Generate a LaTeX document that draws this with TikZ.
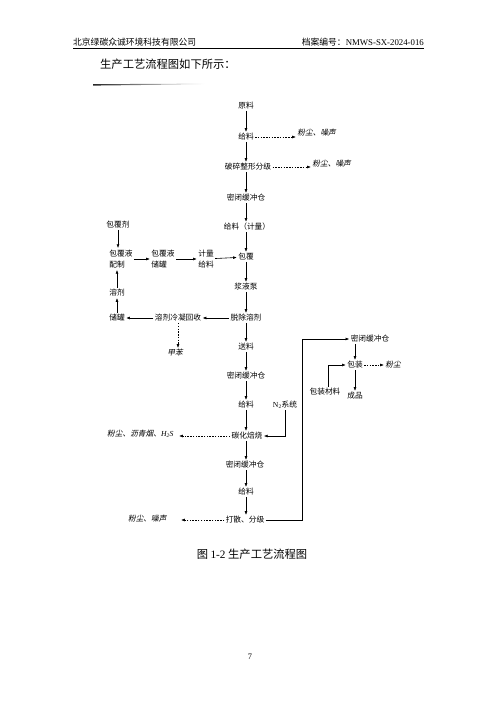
\documentclass[tikz,border=0pt]{standalone}
\usepackage{fontspec}
\setmainfont{Noto Sans CJK SC}
\newfontfamily\romfont{Liberation Serif}
\newfontfamily\slantfont[FakeSlant=0.2]{Noto Sans CJK SC}
\usetikzlibrary{arrows.meta,positioning,calc}

\begin{document}
\begin{tikzpicture}[
  x=0.042cm,y=-0.042cm,
  font=\fontsize{9.2}{11}\selectfont,
  proc/.style={inner sep=1.5pt},
  twoline/.style={proc,align=left,font=\fontsize{9.2}{14}\selectfont},
  emit/.style={inner sep=1.5pt,font=\slantfont\fontsize{9.2}{11}\selectfont},
  flow/.style={-{Latex[length=1.6mm,width=1.2mm]},line width=0.7pt},
  vent/.style={flow,dash pattern=on 1.8pt off 1.5pt}
]
\useasboundingbox (0,0) rectangle (500,707);
% page header
\node[anchor=west,inner sep=0pt,font=\fontsize{10.5}{12}\selectfont] (hdrl) at (73,42) {北京绿碳众诚环境科技有限公司};
\node[anchor=east,inner sep=0pt,font=\fontsize{10.5}{12}\selectfont] (hdrr) at (424,42) {档案编号：{\romfont NMWS-SX-2024-016}};
\draw[line width=0.5pt] (hdrl.west |- 0,48.5) -- (hdrr.east |- 0,48.5);
\node[anchor=west,inner sep=0pt,font=\fontsize{13.5}{15}\selectfont] (intro) at (100,64) {生产工艺流程图如下所示：};
\shade[left color=black!85,right color=white] (93,84.2) -- (205,83.6) -- (205,84.2) -- (93,85.6) -- cycle;
% main column
\node[proc] (yl) at (246,106) {原料};
\node[proc] (gl1) at (246,137) {给料};
\node[proc] (ps) at (248,167) {破碎整形分级};
\node[proc] (mb1) at (246,198) {密闭缓冲仓};
\node[proc] (jl) at (247,227) {给料（计量）};
\node[proc] (bf) at (246,257) {包覆};
\node[proc] (jyb) at (246,287) {浆液泵};
\node[proc] (tc) at (246,318) {脱除溶剂};
\node[proc] (sl) at (246,347) {送料};
\node[proc] (mb2) at (246,376) {密闭缓冲仓};
\node[proc] (gl2) at (246,405) {给料};
\node[proc] (th) at (247,436) {碳化焙烧};
\node[proc] (mb3) at (245,465) {密闭缓冲仓};
\node[proc] (gl3) at (246,492) {给料};
\node[proc] (ds) at (245,520) {打散、分级};
\draw[flow] (yl) -- (gl1);
\draw[flow] (gl1) -- (gl1 |- ps.north);
\draw[flow] (gl1 |- ps.south) -- (mb1);
\draw[flow] (mb1) -- (mb1 |- jl.north);
\draw[flow] (mb1 |- jl.south) -- (bf);
\draw[flow] (bf) -- (jyb);
\draw[flow] (jyb) -- (jyb |- tc.north);
\draw[flow] (jyb |- tc.south) -- (sl);
\draw[flow] (sl) -- (mb2);
\draw[flow] (mb2) -- (gl2);
\draw[flow] (gl2) -- (gl2 |- th.north);
\draw[flow] (gl2 |- th.south) -- (gl2 |- mb3.north);
\draw[flow] (gl2 |- mb3.south) -- (gl3);
\draw[flow] (gl3) -- (gl3 |- ds.north);
% emissions
\node[emit,anchor=west] (e1) at (296,133) {粉尘、噪声};
\node[emit,anchor=west] (e2) at (311,164) {粉尘、噪声};
\node[emit,anchor=east] (e3) at (175,434) {粉尘、沥青烟、{\romfont\itshape H\textsubscript{2}S}};
\node[emit,anchor=east] (e4) at (168,519) {粉尘、噪声};
\node[emit] (jb) at (175,353) {甲苯};
\draw[vent] (gl1.east) -- (gl1.east -| e1.west);
\draw[vent] (ps.east) -- (ps.east -| e2.west);
\draw[vent] (th.west) -- ($(th.west -| e3.east)+(4,0)$);
\draw[vent] (ds.west) -- ($(ds.west -| e4.east)+(13,0)$);
% coating liquid and solvent loop
\node[proc] (bfj) at (118,225) {包覆剂};
\node[twoline] (bfp) at (121,259) {包覆液\\配制};
\node[twoline] (bfc) at (163,259) {包覆液\\储罐};
\node[twoline,align=center] (jlgl) at (206,259) {计量\\给料};
\node[proc] (rj) at (117,293) {溶剂};
\node[proc] (cg) at (117,318) {储罐};
\node[proc] (rjl) at (178,318) {溶剂冷凝回收};
\draw[flow] (bfj) -- (bfj |- bfp.north);
\draw[flow] (bfp) -- (bfc);
\draw[flow] (bfc) -- (jlgl);
\draw[flow] (jlgl) -- (bf);
\draw[flow] (tc) -- (rjl);
\draw[flow] (rjl) -- (cg);
\draw[flow] (cg) -- (rj);
\draw[flow] (rj) -- (rj |- bfp.south);
\draw[vent] (rjl.south) -- (rjl.south |- jb.north);
% nitrogen
\node[proc] (n2) at (285,405) {{\romfont N\textsubscript{2}}系统};
\draw[flow] (n2.south) |- (th.east);
% packaging branch
\node[proc] (mb4) at (370,339) {密闭缓冲仓};
\node[proc] (bz) at (355,365) {包装};
\node[proc] (bzcl) at (325,392) {包装材料};
\node[proc] (cp) at (355,396) {成品};
\node[emit,anchor=west] (e5) at (384,365) {粉尘};
\draw[flow] (ds.east) -- ++(37,0) |- (mb4.west);
\draw[flow] (bz |- mb4.south) -- (bz);
\draw[flow] ([xshift=4]bzcl.north) |- (bz.west);
\draw[flow] (bz) -- (cp);
\draw[vent] (bz.east) -- (e5.west);
% caption and page number
\node[inner sep=0pt,font=\fontsize{13.5}{15}\selectfont] (cap) at (252,554) {图 {\romfont 1-2} 生产工艺流程图};
\node[inner sep=0pt,font=\romfont\fontsize{10}{12}\selectfont] (pg) at (250,657) {7};
\end{tikzpicture}
\end{document}
